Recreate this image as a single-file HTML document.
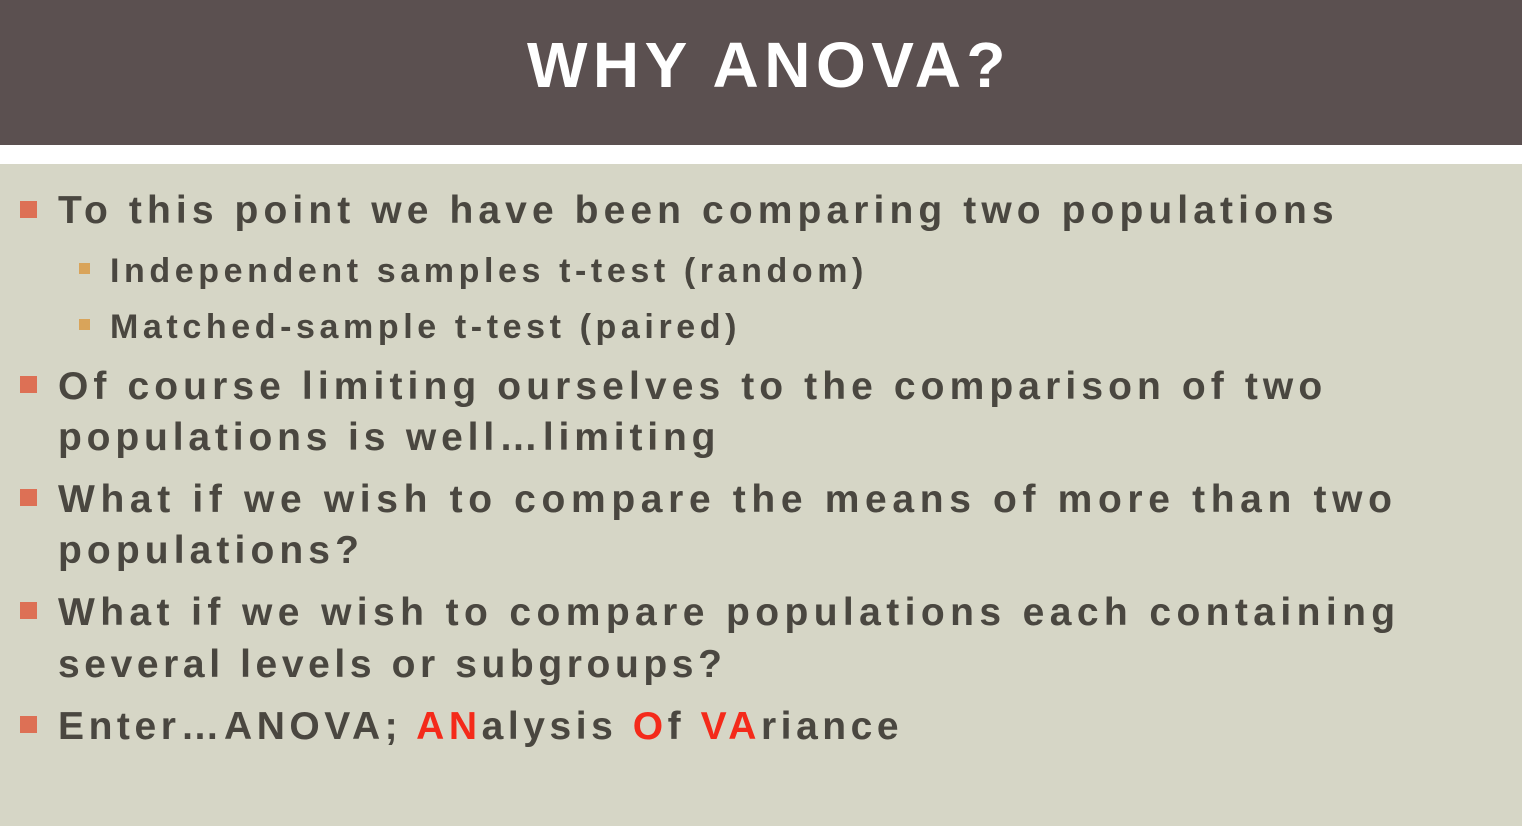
<!DOCTYPE html>
<html><head><style>
body{margin:0;width:1522px;height:826px;overflow:hidden;background:#d6d6c6;font-family:"Liberation Sans",sans-serif;position:relative}
#hdr{position:absolute;left:0;top:0;width:1522px;height:145px;background:#5b5050}
#hdr h1{margin:0;position:absolute;top:28px;left:8px;width:100%;text-align:center;color:#fff;font-size:64px;font-weight:bold;letter-spacing:5.5px}
#strip{position:absolute;left:0;top:145px;width:1522px;height:19px;background:#fff}
.l{position:absolute;left:58px;color:#4a4740;font-weight:bold;white-space:nowrap;font-size:39px;letter-spacing:5.1px;line-height:40px}
.s{left:110px;font-size:34px;letter-spacing:4.6px;font-weight:bold}
.b{position:absolute;left:20px;width:17px;height:17px;background:#dd7055}
.sb{position:absolute;left:79px;width:11px;height:11px;background:#d9a45a}
.r{color:#f42a1a}
</style></head><body>
<div id="hdr"><h1>WHY ANOVA?</h1></div>
<div id="strip"></div>
<div class="b" style="top:201px"></div>
<div class="l" style="top:191px">To this point we have been comparing two populations</div>
<div class="sb" style="top:263px"></div>
<div class="l s" style="top:251px">Independent samples t-test (random)</div>
<div class="sb" style="top:319px"></div>
<div class="l s" style="top:307px">Matched-sample t-test (paired)</div>
<div class="b" style="top:376px"></div>
<div class="l" style="top:367px">Of course limiting ourselves to the comparison of two</div>
<div class="l" style="top:418px;letter-spacing:4.85px">populations is well…limiting</div>
<div class="b" style="top:489px"></div>
<div class="l" style="top:480px;letter-spacing:5.65px">What if we wish to compare the means of more than two</div>
<div class="l" style="top:531px">populations?</div>
<div class="b" style="top:602px"></div>
<div class="l" style="top:593px;letter-spacing:5.4px">What if we wish to compare populations each containing</div>
<div class="l" style="top:645px;letter-spacing:4.6px">several levels or subgroups?</div>
<div class="b" style="top:716px"></div>
<div class="l" style="top:707px;letter-spacing:4.55px">Enter…ANOVA; <span class="r">AN</span>alysis <span class="r">O</span>f <span class="r">VA</span>riance</div>
</body></html>
